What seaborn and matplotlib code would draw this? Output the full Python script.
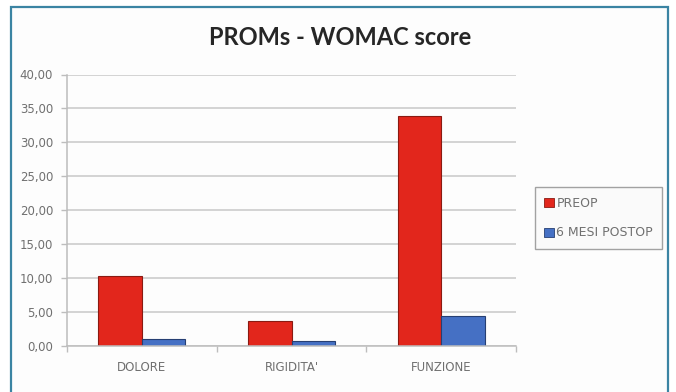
import matplotlib
matplotlib.use("Agg")
import matplotlib.pyplot as plt
from matplotlib.patches import Rectangle, Patch
import seaborn as sns
import pandas as pd

categories = ["DOLORE", "RIGIDITA'", "FUNZIONE"]
series_names = ["PREOP", "6 MESI POSTOP"]
preop = [10.2, 3.6, 33.9]
postop = [0.9, 0.7, 4.3]
y_ticks = [0, 5, 10, 15, 20, 25, 30, 35, 40]
y_tick_labels = ["0,00", "5,00", "10,00", "15,00", "20,00", "25,00", "30,00", "35,00", "40,00"]

df = pd.DataFrame({
    "categoria": categories * 2,
    "serie": [series_names[0]] * 3 + [series_names[1]] * 3,
    "valore": preop + postop,
})

sns.set_theme(style="white")
plt.rcParams["font.family"] = ["DejaVu Sans"]

W, H = 676, 392
fig = plt.figure(figsize=(W / 100, H / 100), dpi=100)
fig.patch.set_facecolor("white")

# outer frame of the chart
frame = Rectangle((11 / W, -0.05), (668 - 11) / W, 1 - 7 / H + 0.05,
                  transform=fig.transFigure, facecolor="#fdfdfd",
                  edgecolor="#3b84a3", linewidth=1.6, zorder=-5)
fig.patches.append(frame)

ax = fig.add_axes([67 / W, 1 - 345.5 / H, (516 - 67) / W, (345.5 - 74.5) / H])
ax.set_facecolor("none")

palette = {"PREOP": "#e2261c", "6 MESI POSTOP": "#4570c4"}
edge = {"PREOP": "#8a1a12", "6 MESI POSTOP": "#263f73"}
sns.barplot(data=df, x="categoria", y="valore", hue="serie", palette=palette,
            width=0.58, saturation=1, ax=ax, legend=False)

for container, name in zip(ax.containers, series_names):
    for bar in container:
        bar.set_edgecolor(edge[name])
        bar.set_linewidth(0.8)

ax.set_ylim(0, 40)
ax.set_xlim(-0.5, 2.5)
ax.set_yticks(y_ticks)
ax.set_yticklabels(y_tick_labels)
ax.yaxis.grid(True, color="#c8c8c8", linewidth=1.1)
ax.set_axisbelow(True)
ax.set_xlabel("")
ax.set_ylabel("")

for s in ["top", "right"]:
    ax.spines[s].set_visible(False)
for s in ["left", "bottom"]:
    ax.spines[s].set_color("#bdbdbd")
    ax.spines[s].set_linewidth(1.1)

ax.tick_params(axis="y", which="major", length=4, color="#bdbdbd", width=1,
               labelsize=8.5, labelcolor="#707070", pad=6, left=True)
ax.tick_params(axis="x", which="major", length=0, labelsize=8.5,
               labelcolor="#707070", pad=11)
ax.set_xticks([-0.5, 0.5, 1.5, 2.5], minor=True)
ax.tick_params(axis="x", which="minor", length=4, color="#bdbdbd", width=1, bottom=True)

fig.text(340 / W, 1 - 45 / H, "PROMs - WOMAC score", ha="center", va="baseline",
         fontsize=17, fontweight="bold", color="#262626", family=["Lato", "DejaVu Sans"])

# legend
handles = [Patch(facecolor=palette[n], edgecolor=edge[n], linewidth=0.6) for n in series_names]
leg = fig.legend(handles, series_names, loc="center left",
                 bbox_to_anchor=(535 / W, 1 - 218 / H),
                 frameon=True, fontsize=9, handlelength=0.75, handleheight=0.75,
                 handletextpad=0.2, labelspacing=1.35, borderpad=0.75, borderaxespad=0,
                 fancybox=False)
leg.get_frame().set_edgecolor("#8c8c8c")
leg.get_frame().set_linewidth(1.0)
leg.get_frame().set_facecolor("#fafafa")
for t in leg.get_texts():
    t.set_color("#707070")

fig.savefig("out.png", dpi=100)
